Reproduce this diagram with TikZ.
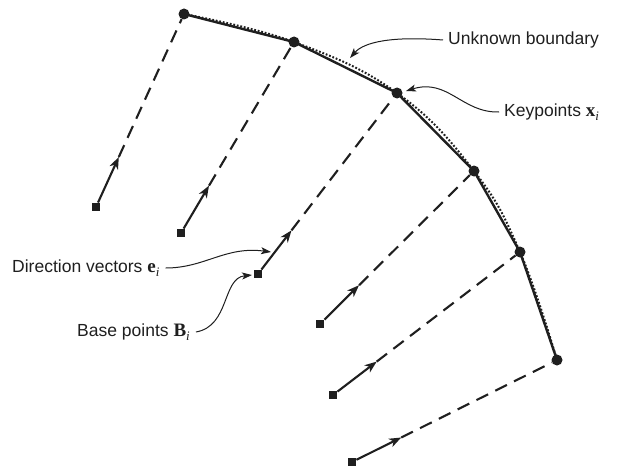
\documentclass[tikz,border=0pt]{standalone}
\usepackage{fontspec}
\setmainfont{Liberation Sans}
\newfontfamily\mathserif{Liberation Serif}
\usetikzlibrary{arrows.meta,calc}
\newcommand{\bvec}[1]{{\mathserif\bfseries\fontsize{19}{20}\selectfont #1}\raisebox{-4pt}{\mathserif\itshape\fontsize{13}{14}\selectfont i}}
\tikzset{
  kp/.style={circle,fill=black!88,inner sep=0pt,minimum size=11pt},
  bp/.style={rectangle,fill=black!88,inner sep=0pt,minimum size=8.5pt},
  vecline/.style={line width=2.1pt,black!88,-{Stealth[length=12pt,width=9pt,inset=3.5pt]}},
  guide/.style={line width=2.1pt,black!88,dash pattern=on 13pt off 8pt},
  poly/.style={line width=2.4pt,black!88},
  bound/.style={line width=2pt,black!88,dash pattern=on 1.8pt off 1.8pt},
  lead/.style={line width=1pt,black!88,-{Stealth[length=10pt,width=7pt,inset=2.5pt]}},
  lbl/.style={font=\fontsize{17.5}{20}\selectfont,text=black!88,inner sep=0pt}
}
\begin{document}
\begin{tikzpicture}[x=1pt,y=-1pt]
\useasboundingbox (0,0) rectangle (617,468);
% keypoint coordinates
\coordinate (c1) at (184,14);
\coordinate (c2) at (294,42);
\coordinate (c3) at (397,93);
\coordinate (c4) at (474,171);
\coordinate (c5) at (520,252);
\coordinate (c6) at (557,360);
% unknown boundary (dotted smooth curve)
\draw[bound] plot[smooth,tension=0.7] coordinates {(184,14) (294,42) (397,93) (474,171) (520,252) (557,360)};
% polyline
\draw[poly] (c1) -- (c2) -- (c3) -- (c4) -- (c5) -- (c6);
% keypoints
\foreach \i in {1,...,6} { \node[kp] (K\i) at (c\i) {}; }
% base points
\node[bp] (B1) at (96,207) {};
\node[bp] (B2) at (181,233) {};
\node[bp] (B3) at (258,274) {};
\node[bp] (B4) at (320,324) {};
\node[bp] (B5) at (333,395) {};
\node[bp] (B6) at (352,462) {};
% direction vectors and guide lines
\foreach \i in {1,...,6} {
  \coordinate (A\i) at ($(B\i)!55pt!(K\i)$);
  \draw[guide] (A\i) -- (K\i);
  \draw[vecline] (B\i) -- (A\i);
}
% labels
\node[lbl,anchor=west] (ub) at (448,40) {Unknown boundary};
\coordinate (ubt) at (350,58);
\draw[lead] ([xshift=-5pt]ub.west) .. controls (392,36) and (364,42) .. (ubt);

\node[lbl,anchor=west] (kpl) at (504,112) {Keypoints \bvec{x}};
\coordinate (kpt) at (406,91);
\draw[lead] ([xshift=-5pt]kpl.west) .. controls (462,113) and (448,78) .. (kpt);

\node[lbl,anchor=west] (dvl) at (12,268) {Direction vectors \bvec{e}};
\coordinate (dvt) at (271,252);
\draw[lead] ([xshift=6pt]dvl.east) .. controls (205,268) and (225,246) .. (dvt);

\node[lbl,anchor=west] (bpl) at (77,332) {Base points \bvec{B}};
\coordinate (bpt) at (252,275);
\draw[lead] ([xshift=6pt]bpl.east) .. controls (230,326) and (222,278) .. (bpt);
\end{tikzpicture}
\end{document}
